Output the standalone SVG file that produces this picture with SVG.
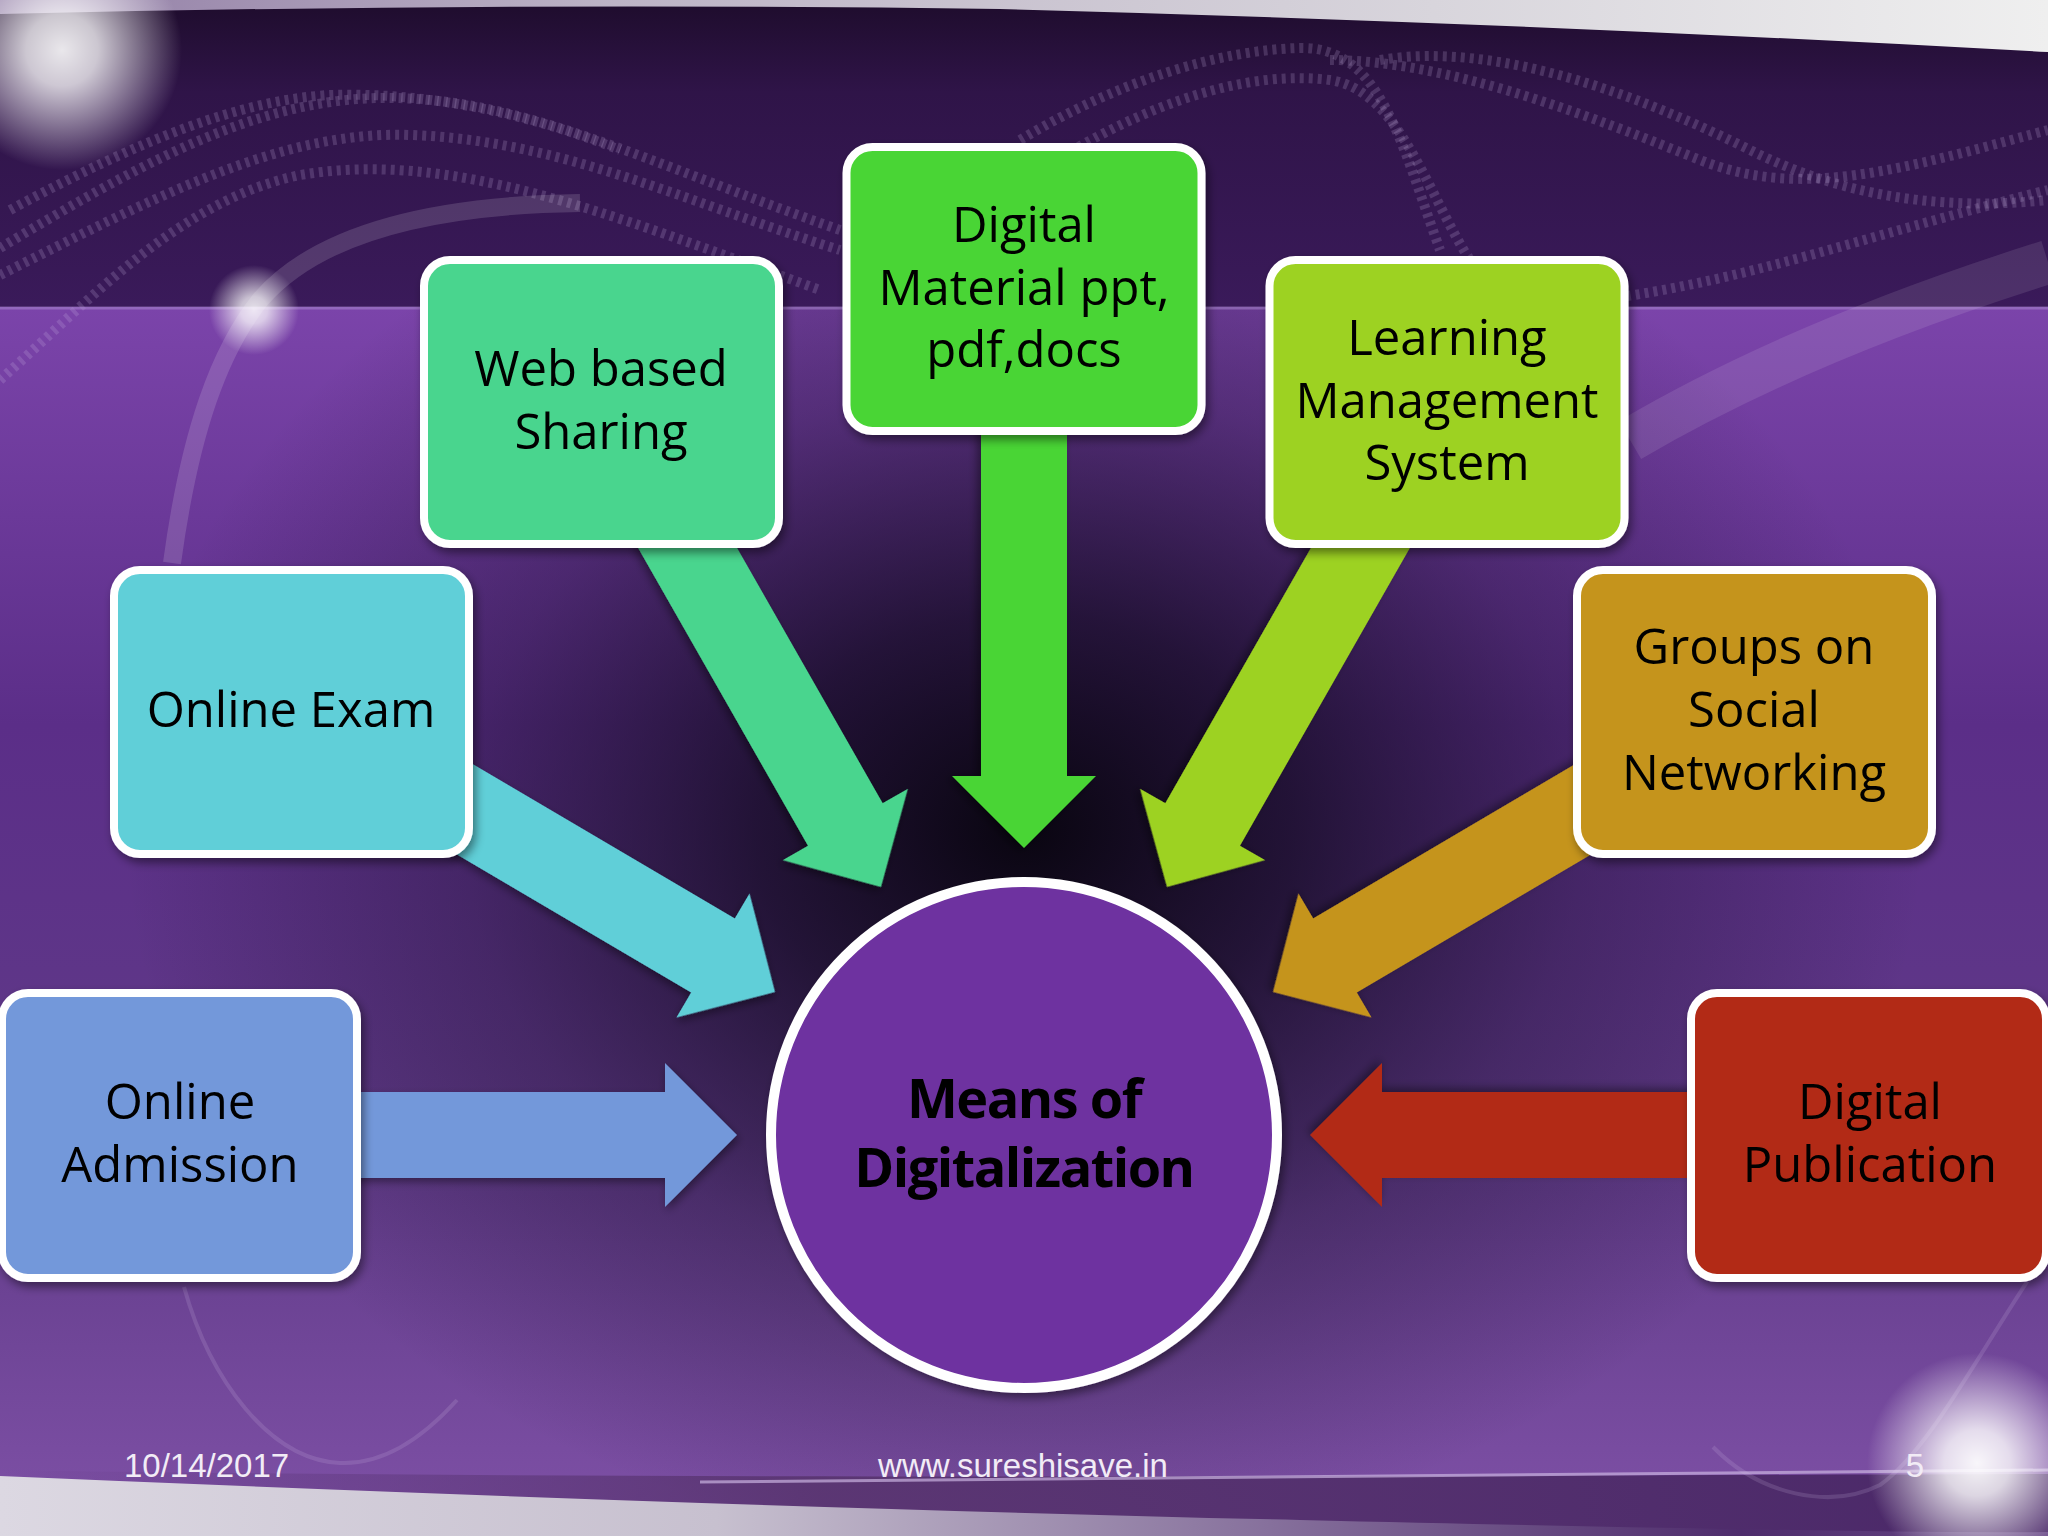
<svg xmlns="http://www.w3.org/2000/svg" width="2048" height="1536" viewBox="0 0 2048 1536">
<defs>
<style>
.box{stroke:#fff;stroke-width:8;filter:url(#sh)}
.arr{filter:url(#sh2)}
.lbl{font-family:"Open Sans","Liberation Sans",sans-serif;font-size:49px;fill:#000;text-anchor:middle}
.ttl{font-family:"Open Sans","Liberation Sans",sans-serif;font-size:54px;font-weight:700;letter-spacing:-1.5px;fill:#000;text-anchor:middle}
.ftr{font-family:"Liberation Sans",Arial,sans-serif;font-size:33px;fill:#f2ecf6}
.bin{fill:none;stroke:#cdb8e6;stroke-opacity:.2;stroke-width:10;stroke-dasharray:4 5}
.wisp{fill:none;stroke:#d8c4ee;stroke-opacity:.16;stroke-width:4}
</style>
<filter id="sh" x="-10%" y="-10%" width="125%" height="125%"><feDropShadow dx="3" dy="5" stdDeviation="5" flood-color="#000" flood-opacity="0.45"/></filter>
<filter id="sh2" x="-20%" y="-20%" width="140%" height="140%"><feDropShadow dx="2" dy="4" stdDeviation="4" flood-color="#000" flood-opacity="0.4"/></filter>
<linearGradient id="bandG" x1="0" y1="0" x2="0" y2="1">
<stop offset="0" stop-color="#1e0c2c"/><stop offset="0.3" stop-color="#2f1448"/><stop offset="1" stop-color="#3a1a5a"/>
</linearGradient>
<linearGradient id="topG" x1="0" y1="0" x2="1" y2="0">
<stop offset="0" stop-color="#8f7aa4"/><stop offset="0.3" stop-color="#bdb4c6"/><stop offset="0.7" stop-color="#d8d5dc"/><stop offset="1" stop-color="#efefef"/>
</linearGradient>
<linearGradient id="lowG" x1="0" y1="307" x2="0" y2="1500" gradientUnits="userSpaceOnUse">
<stop offset="0" stop-color="#7b44aa"/><stop offset="0.35" stop-color="#5b2e88"/><stop offset="0.7" stop-color="#603a88"/><stop offset="1" stop-color="#7c4fa4"/>
</linearGradient>
<radialGradient id="vig" cx="1024" cy="830" r="900" gradientUnits="userSpaceOnUse" gradientTransform="translate(0 830) scale(1 0.8) translate(0 -830)">
<stop offset="0" stop-color="#05030a" stop-opacity="0.95"/><stop offset="0.3" stop-color="#0a0614" stop-opacity="0.7"/><stop offset="0.62" stop-color="#120a20" stop-opacity="0.32"/><stop offset="1" stop-color="#120a20" stop-opacity="0"/>
</radialGradient>
<radialGradient id="glow">
<stop offset="0" stop-color="#fff" stop-opacity="1"/><stop offset="0.3" stop-color="#fff" stop-opacity="0.85"/><stop offset="1" stop-color="#fff" stop-opacity="0"/>
</radialGradient>
<linearGradient id="botG" x1="0" y1="0" x2="1" y2="0">
<stop offset="0" stop-color="#dcd8e2"/><stop offset="0.35" stop-color="#c7c0cf"/><stop offset="0.62" stop-color="#86709c"/><stop offset="0.85" stop-color="#4e2c6c"/><stop offset="1" stop-color="#6a4a88"/>
</linearGradient>
<linearGradient id="darkStripe" x1="0" y1="0" x2="1" y2="0">
<stop offset="0" stop-color="#5a3478" stop-opacity="0"/><stop offset="0.4" stop-color="#58346f" stop-opacity="0.9"/><stop offset="1" stop-color="#4a2868"/>
</linearGradient>
</defs>

<g id="background">
<rect x="0" y="0" width="2048" height="1536" fill="url(#lowG)"/>
<rect x="0" y="307" width="2048" height="1229" fill="url(#vig)"/>
<rect x="0" y="0" width="2048" height="307" fill="url(#bandG)"/>
<path d="M0,0 H2048 V52 Q1500,22 1000,9 Q500,2 0,14 Z" fill="url(#topG)"/>
<path class="bin" d="M10,210 C140,140 240,100 330,95 C420,92 520,110 620,150"/>
<path class="bin" d="M0,248 C130,170 250,100 380,98 C520,96 640,160 840,230"/>
<path class="bin" d="M0,275 C150,200 280,130 410,135 C560,140 680,200 840,250"/>
<path class="bin" d="M0,380 C90,300 180,200 300,175 C450,150 600,210 820,290"/>
<path class="bin" d="M1020,140 C1120,80 1220,50 1300,48 C1380,46 1400,140 1440,250"/>
<path class="bin" d="M1040,170 C1150,100 1250,70 1330,80 C1400,90 1430,200 1470,260"/>
<path class="bin" d="M1330,60 C1450,60 1600,120 1700,160 C1800,200 1900,170 2048,130"/>
<path class="bin" d="M1380,60 C1500,40 1650,100 1750,150 C1850,200 1950,210 2048,200"/>
<path class="bin" d="M1600,300 C1750,280 1850,240 2048,190"/>
<line x1="0" y1="308" x2="2048" y2="308" stroke="#a886cc" stroke-opacity="0.55" stroke-width="3"/>
<path d="M172,563 C190,430 220,350 260,300 C320,230 440,205 580,203" fill="none" stroke="#fff" stroke-opacity="0.14" stroke-width="18"/>
<path d="M1630,440 Q1800,340 2048,262" fill="none" stroke="#fff" stroke-opacity="0.1" stroke-width="44"/>
<path d="M0,1470 C600,1480 1400,1476 2048,1474 V1536 H0 Z" fill="url(#darkStripe)"/>
<path d="M0,1476 Q700,1506 1300,1520 T2048,1532 V1536 H0 Z" fill="url(#botG)"/>
<path d="M700,1482 C1200,1474 1700,1474 2048,1470" fill="none" stroke="#c9b2e0" stroke-opacity="0.7" stroke-width="3"/>
<path class="wisp" d="M1713,1447 C1760,1495 1830,1510 1880,1485 C1930,1450 1980,1350 2048,1250"/>
<path class="wisp" d="M184,1287 C210,1380 270,1460 340,1463 C390,1465 430,1430 457,1400"/>
<circle cx="62" cy="50" r="120" fill="url(#glow)" opacity="0.9"/>
<circle cx="254" cy="310" r="45" fill="url(#glow)" opacity="0.85"/>
<circle cx="1977" cy="1463" r="110" fill="url(#glow)" opacity="0.95"/>
</g>

<g id="connectors">
<polygon class="arr" fill="#7398DA" points="0,0 -72,-72 -72,-43 -407,-43 -407,43 -72,43 -72,72" transform="translate(737 1135)"/>
<polygon class="arr" fill="#B22A17" points="0,0 -72,-72 -72,-43 -410,-43 -410,43 -72,43 -72,72" transform="translate(1310 1135) rotate(180)"/>
<polygon class="arr" fill="#48D535" points="0,0 -72,-72 -72,-43 -428,-43 -428,43 -72,43 -72,72" transform="translate(1024 848) rotate(90)"/>
<polygon class="arr" fill="#4AD58E" points="0,0 -72,-72 -72,-43 -420,-43 -420,43 -72,43 -72,72" transform="translate(881 887) rotate(60.3)"/>
<polygon class="arr" fill="#9DD224" points="0,0 -72,-72 -72,-43 -420,-43 -420,43 -72,43 -72,72" transform="translate(1167 887) rotate(119.7)"/>
<polygon class="arr" fill="#60CFD8" points="0,0 -72,-72 -72,-43 -400,-43 -400,43 -72,43 -72,72" transform="translate(775 992) rotate(30.5)"/>
<polygon class="arr" fill="#C5941E" points="0,0 -72,-72 -72,-43 -400,-43 -400,43 -72,43 -72,72" transform="translate(1273 992) rotate(149.5)"/>
</g>

<g id="node-online-admission">
<rect class="box" x="2" y="993" width="355" height="285" rx="26" fill="#7398DA"/>
<text class="lbl"><tspan x="180" y="1119">Online</tspan><tspan x="180" y="1182">Admission</tspan></text>
</g>
<g id="node-online-exam">
<rect class="box" x="114" y="570" width="355" height="284" rx="26" fill="#60CFD8"/>
<text class="lbl" x="291" y="727">Online Exam</text>
</g>
<g id="node-web-sharing">
<rect class="box" x="424" y="260" width="355" height="284" rx="26" fill="#4AD58E"/>
<text class="lbl"><tspan x="601" y="386">Web based</tspan><tspan x="601" y="449">Sharing</tspan></text>
</g>
<g id="node-digital-material">
<rect class="box" x="846.5" y="147" width="355" height="284" rx="26" fill="#48D535"/>
<text class="lbl"><tspan x="1024" y="242">Digital</tspan><tspan x="1024" y="305">Material ppt,</tspan><tspan x="1024" y="367">pdf,docs</tspan></text>
</g>
<g id="node-lms">
<rect class="box" x="1269.5" y="260" width="355" height="284" rx="26" fill="#9DD224"/>
<text class="lbl"><tspan x="1447" y="355">Learning</tspan><tspan x="1447" y="418">Management</tspan><tspan x="1447" y="480">System</tspan></text>
</g>
<g id="node-groups">
<rect class="box" x="1577" y="570" width="355" height="284" rx="26" fill="#C5941E"/>
<text class="lbl"><tspan x="1754" y="664">Groups on</tspan><tspan x="1754" y="727">Social</tspan><tspan x="1754" y="790">Networking</tspan></text>
</g>
<g id="node-digital-publication">
<rect class="box" x="1691" y="993" width="355" height="285" rx="26" fill="#B22A17"/>
<text class="lbl"><tspan x="1870" y="1119">Digital</tspan><tspan x="1870" y="1182">Publication</tspan></text>
</g>
<g id="node-center">
<circle cx="1024" cy="1135" r="253" fill="#6E30A0" stroke="#fff" stroke-width="10" filter="url(#sh)"/>
<text class="ttl"><tspan x="1024" y="1118">Means of</tspan><tspan x="1024" y="1187">Digitalization</tspan></text>
</g>

<g id="footer">
<text class="ftr" x="124" y="1477">10/14/2017</text>
<text class="ftr" x="1023" y="1477" text-anchor="middle" font-size="34.5">www.sureshisave.in</text>
<text class="ftr" x="1915" y="1477" text-anchor="middle">5</text>
</g>
</svg>
